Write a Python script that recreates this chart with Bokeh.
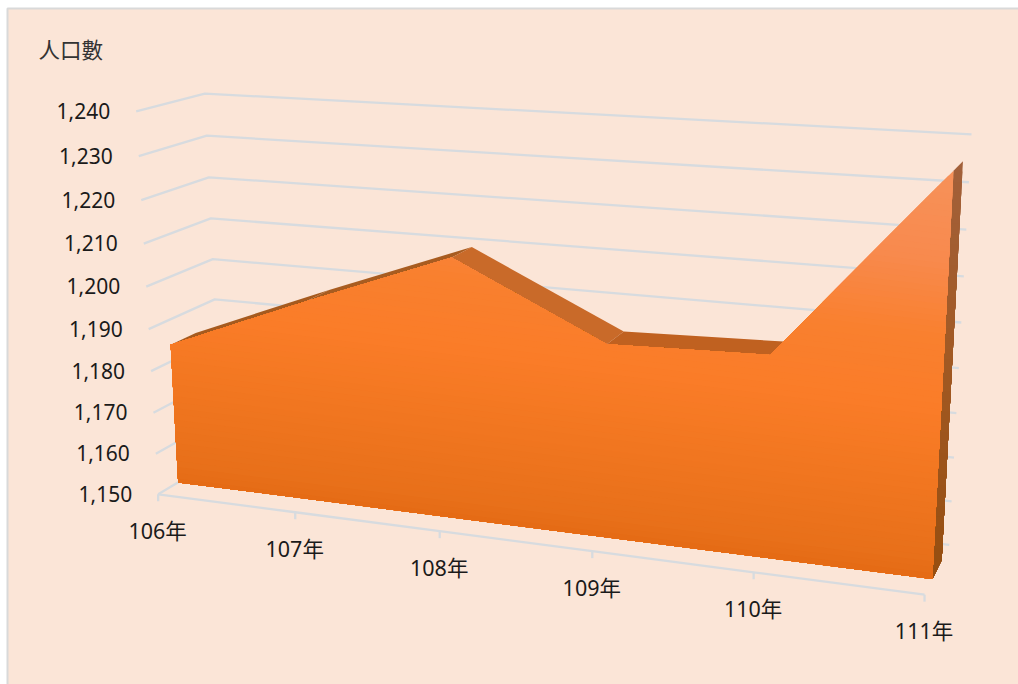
import numpy as np
from bokeh.plotting import figure
from bokeh.models import Range1d
from bokeh.core.properties import value
from bokeh.embed import file_html
from bokeh.resources import INLINE

years = ["106年", "107年", "108年", "109年", "110年", "111年"]
population = [1184, 1197.5, 1210.3, 1194, 1195, 1236]
levels = [1150, 1160, 1170, 1180, 1190, 1200, 1210, 1220, 1230, 1240]
level_labels = ["1,150", "1,160", "1,170", "1,180", "1,190", "1,200", "1,210", "1,220", "1,230", "1,240"]
axis_title = "人口數"

V0, V1 = levels[0], levels[-1]
N = len(years) - 1
Z_FRONT, Z_BACK = 0.30, 0.68
FONT = value("Noto Sans, Noto Sans CJK TC")

# Camera calibration: (X, Y, Z) of the chart box -> page pixel
calib = [
    (0, 0, 0, 158, 493), (.2, 0, 0, 295, 512), (.4, 0, 0, 439, 531), (.6, 0, 0, 592, 552),
    (.8, 0, 0, 753, 573), (1, 0, 0, 924, 592),
    (0, 1, 0, 136, 111), (0, 4/9, 0, 148, 328), (0, 3/9, 0, 150, 371),
    (0, 1, 1, 205, 93), (0, 7/9, 1, 208, 177), (0, 5/9, 1, 212, 259), (0, 4/9, 1, 214, 299),
    (1, 1, 1, 971, 133), (1, 8/9, 1, 968, 182), (1, 7/9, 1, 966, 229), (1, 6/9, 1, 963, 276),
    (1, 5/9, 1, 961, 322), (1, 4/9, 1, 959, 368), (1, 3/9, 1, 956, 413), (1, 2/9, 1, 953, 457),
    (1, 1/9, 1, 951, 501), (1, 0, 1, 949, 544),
    (0, 0, 1, 222, 455),
]
rows = []
for X, Y, Z, u, v in calib:
    u, v = u / 1000, v / 1000
    rows.append([X, Y, Z, 1, 0, 0, 0, 0, -u*X, -u*Y, -u*Z, -u])
    rows.append([0, 0, 0, 0, X, Y, Z, 1, -v*X, -v*Y, -v*Z, -v])
P = np.linalg.svd(np.array(rows, float))[2][-1].reshape(3, 4)


def proj(i, val, z):
    h = P @ np.array([i / N, (val - V0) / (V1 - V0), z, 1.0])
    return h[0] / h[2] * 1000, h[1] / h[2] * 1000


def clip_below(poly, g0, tilt):
    """Keep the part of a polygon with y - tilt*x >= g0."""
    out = []
    for k in range(len(poly)):
        a, b = poly[k], poly[(k + 1) % len(poly)]
        ga, gb = a[1] - tilt * a[0] - g0, b[1] - tilt * b[0] - g0
        if ga >= 0:
            out.append(a)
        if ga * gb < 0:
            t = ga / (ga - gb)
            out.append((a[0] + t * (b[0] - a[0]), a[1] + t * (b[1] - a[1])))
    return out


def hexmix(stops, g):
    gs = [s[0] for s in stops]
    ch = [np.interp(g, gs, [int(s[1][i:i+2], 16) for s in stops]) for i in (1, 3, 5)]
    return "#%02x%02x%02x" % tuple(int(round(c)) for c in ch)


def add_gradient(p, poly, stops, tilt, n=70):
    gv = [q[1] - tilt * q[0] for q in poly]
    lo, hi = min(gv), max(gv)
    xs, ys, cs = [], [], []
    for k in range(n):
        g0 = lo + (hi - lo) * k / n
        c = clip_below(poly, g0, tilt) if k else poly
        if len(c) < 3:
            continue
        xs.append([q[0] for q in c])
        ys.append([q[1] for q in c])
        cs.append(hexmix(stops, g0))
    p.patches(xs, ys, fill_color=cs, line_color=None)


W, H = 1018, 684
p = figure(width=W, height=H, x_range=Range1d(0, W), y_range=Range1d(H, 0),
           toolbar_location=None, output_backend="svg", min_border=0,
           background_fill_color="#FFFFFF", border_fill_color="#FFFFFF", outline_line_color=None)
p.xaxis.visible = False
p.yaxis.visible = False
p.grid.visible = False

p.quad(left=[7], right=[W + 5], top=[8], bottom=[H + 5], fill_color="#FBE5D7",
       line_color="#D9D9D9", line_width=2)

GRID = "#D7DBDF"
gx, gy = [], []
for v in levels:
    a, b, c = proj(0, v, 0), proj(0, v, 1), proj(N, v, 1)
    gx.append([a[0], b[0], c[0]])
    gy.append([a[1], b[1], c[1]])
p.multi_line(gx, gy, line_color=GRID, line_width=2.3)

tx, ty = [], []
pts = [proj(i, V0, 0) for i in range(N + 1)]
tx.append([q[0] for q in pts]); ty.append([q[1] for q in pts])
for q in pts:
    tx.append([q[0], q[0]]); ty.append([q[1], q[1] + 7])
p.multi_line(tx, ty, line_color=GRID, line_width=2.3)

# top faces
top_cols = ["#A65A1E", "#A85C20", "#C96A29", "#C06120", "#B05A24"]
for i in range(N):
    a, b = proj(i, population[i], Z_FRONT), proj(i + 1, population[i + 1], Z_FRONT)
    c, d = proj(i + 1, population[i + 1], Z_BACK), proj(i, population[i], Z_BACK)
    p.patch([a[0], b[0], c[0], d[0]], [a[1], b[1], c[1], d[1]], fill_color=top_cols[i], line_color=None)

# right side face
side = [proj(N, population[N], Z_FRONT), proj(N, population[N], Z_BACK), proj(N, V0, Z_BACK), proj(N, V0, Z_FRONT)]
add_gradient(p, side, [(160, "#A2603A"), (340, "#A25A25"), (570, "#964E10")], 0.0, n=40)

# front face
front = [proj(0, V0, Z_FRONT)] + [proj(i, population[i], Z_FRONT) for i in range(N + 1)] + [proj(N, V0, Z_FRONT)]
add_gradient(p, front, [(50, "#F79159"), (137, "#F88A4E"), (214, "#F9802F"), (290, "#FA7C28"),
                        (340, "#F47822"), (437, "#E8701A"), (462, "#E46A14")], 0.125)

# labels
lx = [proj(0, v, 0)[0] - 26 for v in levels]
ly = [proj(0, v, 0)[1] - 0.5 for v in levels]
p.text(lx, ly, text=level_labels, text_font=FONT, text_font_size="21px", text_align="right",
       text_baseline="middle", text_color="#1A1A1A")
cx = [q[0] - 0.5 for q in pts]
cy = [q[1] + 36 for q in pts]
p.text(cx, cy, text=years, text_font=FONT, text_font_size="21.5px", text_align="center",
       text_baseline="middle", text_color="#1A1A1A")
p.text([38], [48], text=[axis_title], text_font=value("Noto Sans CJK TC"), text_font_size="21.5px",
       text_align="left", text_baseline="middle", text_color="#333333")

open("out.html", "w").write(file_html(p, INLINE))
